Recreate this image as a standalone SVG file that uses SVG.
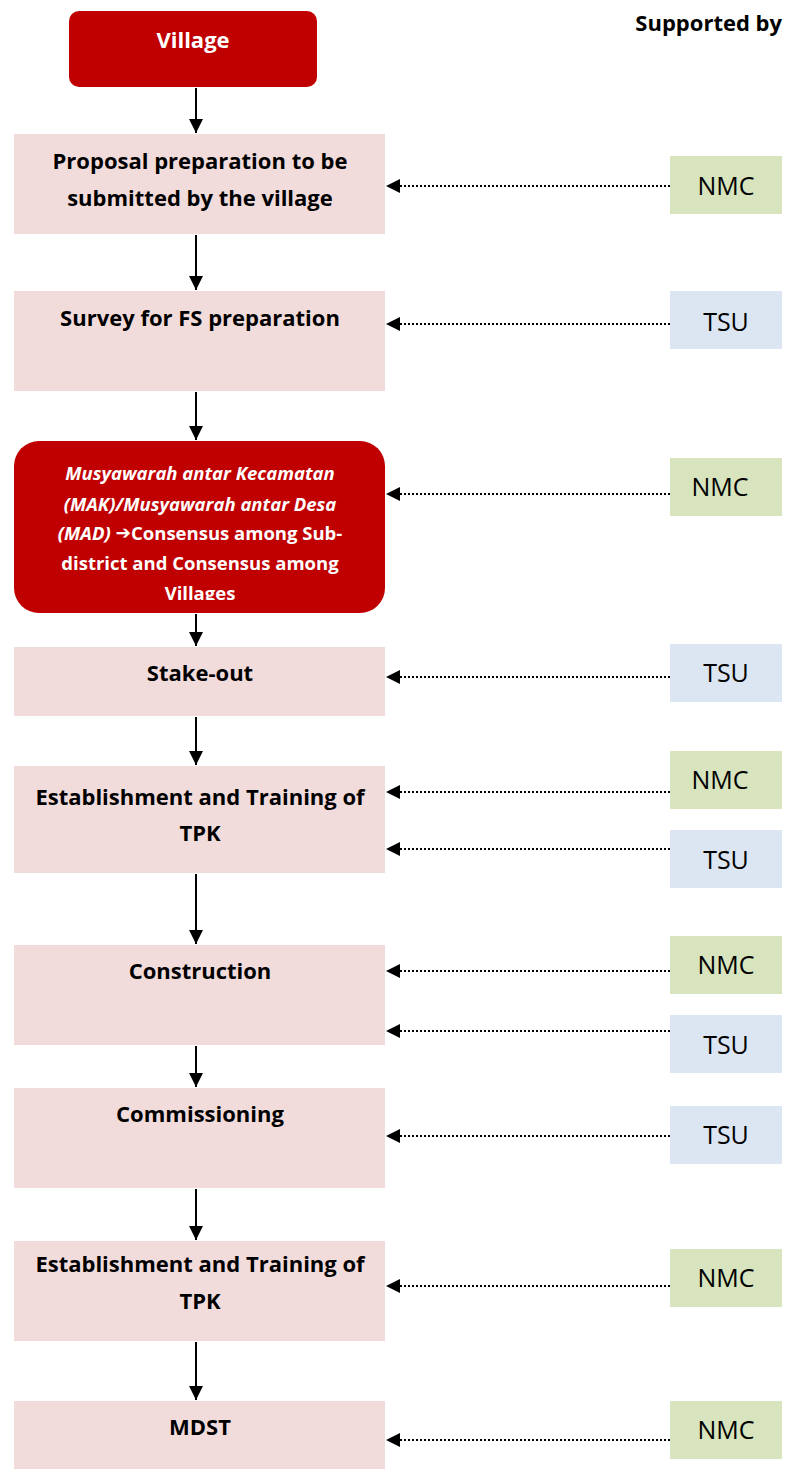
<svg xmlns="http://www.w3.org/2000/svg" width="786" height="1470" viewBox="0 0 786 1470">
<style>
.red{fill:#C00000}
.pink{fill:#F2DCDB}
.nmc{fill:#D7E4BD}
.tsu{fill:#DCE6F2}
.t{font-family:"Open Sans","Liberation Sans",sans-serif;font-weight:bold;font-size:22px;fill:#000;text-anchor:middle;dominant-baseline:central}
.w{fill:#fff}
.s{font-family:"Open Sans","Liberation Sans",sans-serif;font-size:25px;fill:#000;text-anchor:middle;dominant-baseline:central}
.m{font-family:"Open Sans","Liberation Sans",sans-serif;font-weight:bold;font-size:18.5px;fill:#fff;text-anchor:middle;dominant-baseline:central}
.solid{stroke:#000;stroke-width:2;fill:none}
.dot{stroke:#000;stroke-width:2;stroke-dasharray:2 2;fill:none}
</style>
<defs>
<marker id="ah" viewBox="0 0 10 10" refX="10" refY="5" markerWidth="14" markerHeight="14" markerUnits="userSpaceOnUse" orient="auto">
<path d="M0,0 L10,5 L0,10 z" fill="#000"/>
</marker>
<clipPath id="mc"><rect x="14" y="441" width="371" height="159"/></clipPath>
</defs>
<text x="782" y="22" font-family="'Open Sans','Liberation Sans',sans-serif" font-weight="bold" font-size="22" text-anchor="end" dominant-baseline="central">Supported by</text>
<g id="connectors">
<line class="solid" x1="196" y1="88" x2="196" y2="133" marker-end="url(#ah)"/>
<line class="solid" x1="196" y1="235" x2="196" y2="290" marker-end="url(#ah)"/>
<line class="solid" x1="196" y1="392" x2="196" y2="440" marker-end="url(#ah)"/>
<line class="solid" x1="196" y1="614" x2="196" y2="646" marker-end="url(#ah)"/>
<line class="solid" x1="196" y1="717" x2="196" y2="765" marker-end="url(#ah)"/>
<line class="solid" x1="196" y1="874" x2="196" y2="944" marker-end="url(#ah)"/>
<line class="solid" x1="196" y1="1046" x2="196" y2="1087" marker-end="url(#ah)"/>
<line class="solid" x1="196" y1="1189" x2="196" y2="1240" marker-end="url(#ah)"/>
<line class="solid" x1="196" y1="1342" x2="196" y2="1400" marker-end="url(#ah)"/>
<line class="dot" x1="670" y1="186" x2="386" y2="186" marker-end="url(#ah)"/>
<line class="dot" x1="670" y1="324" x2="386" y2="324" marker-end="url(#ah)"/>
<line class="dot" x1="670" y1="494" x2="386" y2="494" marker-end="url(#ah)"/>
<line class="dot" x1="670" y1="677" x2="386" y2="677" marker-end="url(#ah)"/>
<line class="dot" x1="670" y1="792" x2="386" y2="792" marker-end="url(#ah)"/>
<line class="dot" x1="670" y1="849" x2="386" y2="849" marker-end="url(#ah)"/>
<line class="dot" x1="670" y1="971" x2="386" y2="971" marker-end="url(#ah)"/>
<line class="dot" x1="670" y1="1031" x2="386" y2="1031" marker-end="url(#ah)"/>
<line class="dot" x1="670" y1="1136" x2="386" y2="1136" marker-end="url(#ah)"/>
<line class="dot" x1="670" y1="1286" x2="386" y2="1286" marker-end="url(#ah)"/>
<line class="dot" x1="670" y1="1440" x2="386" y2="1440" marker-end="url(#ah)"/>
</g>
<g id="village"><rect class="red" x="69" y="11" width="248" height="76" rx="10"/><text class="t w" x="193" y="39">Village</text></g>
<g id="proposal"><rect class="pink" x="14" y="134" width="371" height="100"/><text class="t" x="200" y="160">Proposal preparation to be</text><text class="t" x="200" y="197">submitted by the village</text></g>
<g id="survey"><rect class="pink" x="14" y="291" width="371" height="100"/><text class="t" x="200" y="317">Survey for FS preparation</text></g>
<g id="mak"><rect class="red" x="14" y="441" width="371" height="172" rx="25"/>
<g clip-path="url(#mc)">
<text class="m" x="200" y="472" font-style="italic">Musyawarah antar Kecamatan</text>
<text class="m" x="200" y="503" font-style="italic">(MAK)/Musyawarah antar Desa</text>
<text class="m" x="200" y="532"><tspan font-style="italic">(MAD) </tspan><tspan font-family="'DejaVu Sans',sans-serif">➔</tspan>Consensus among Sub-</text>
<text class="m" x="200" y="562">district and Consensus among</text>
<text class="m" x="200" y="592">Villages</text>
</g></g>
<g id="stakeout"><rect class="pink" x="14" y="647" width="371" height="69"/><text class="t" x="200" y="672">Stake-out</text></g>
<g id="establishment1"><rect class="pink" x="14" y="766" width="371" height="107"/><text class="t" x="200" y="796">Establishment and Training of</text><text class="t" x="200" y="832">TPK</text></g>
<g id="construction"><rect class="pink" x="14" y="945" width="371" height="100"/><text class="t" x="200" y="970">Construction</text></g>
<g id="commissioning"><rect class="pink" x="14" y="1088" width="371" height="100"/><text class="t" x="200" y="1113">Commissioning</text></g>
<g id="establishment2"><rect class="pink" x="14" y="1241" width="371" height="100"/><text class="t" x="200" y="1263">Establishment and Training of</text><text class="t" x="200" y="1300">TPK</text></g>
<g id="mdst"><rect class="pink" x="14" y="1401" width="371" height="68"/><text class="t" x="200" y="1426">MDST</text></g>
<g id="nmc1"><rect class="nmc" x="670" y="156" width="112" height="58"/><text class="s" x="726" y="185">NMC</text></g>
<g id="tsu1"><rect class="tsu" x="670" y="291" width="112" height="58"/><text class="s" x="726" y="321">TSU</text></g>
<g id="nmc2"><rect class="nmc" x="670" y="458" width="112" height="58"/><text class="s" x="720" y="486">NMC</text></g>
<g id="tsu2"><rect class="tsu" x="670" y="644" width="112" height="58"/><text class="s" x="726" y="672">TSU</text></g>
<g id="nmc3"><rect class="nmc" x="670" y="751" width="112" height="58"/><text class="s" x="720" y="779">NMC</text></g>
<g id="tsu3"><rect class="tsu" x="670" y="830" width="112" height="58"/><text class="s" x="726" y="859">TSU</text></g>
<g id="nmc4"><rect class="nmc" x="670" y="936" width="112" height="58"/><text class="s" x="726" y="964">NMC</text></g>
<g id="tsu4"><rect class="tsu" x="670" y="1015" width="112" height="58"/><text class="s" x="726" y="1044">TSU</text></g>
<g id="tsu5"><rect class="tsu" x="670" y="1106" width="112" height="58"/><text class="s" x="726" y="1134">TSU</text></g>
<g id="nmc5"><rect class="nmc" x="670" y="1249" width="112" height="58"/><text class="s" x="726" y="1277">NMC</text></g>
<g id="nmc6"><rect class="nmc" x="670" y="1401" width="112" height="58"/><text class="s" x="726" y="1429">NMC</text></g>
</svg>
